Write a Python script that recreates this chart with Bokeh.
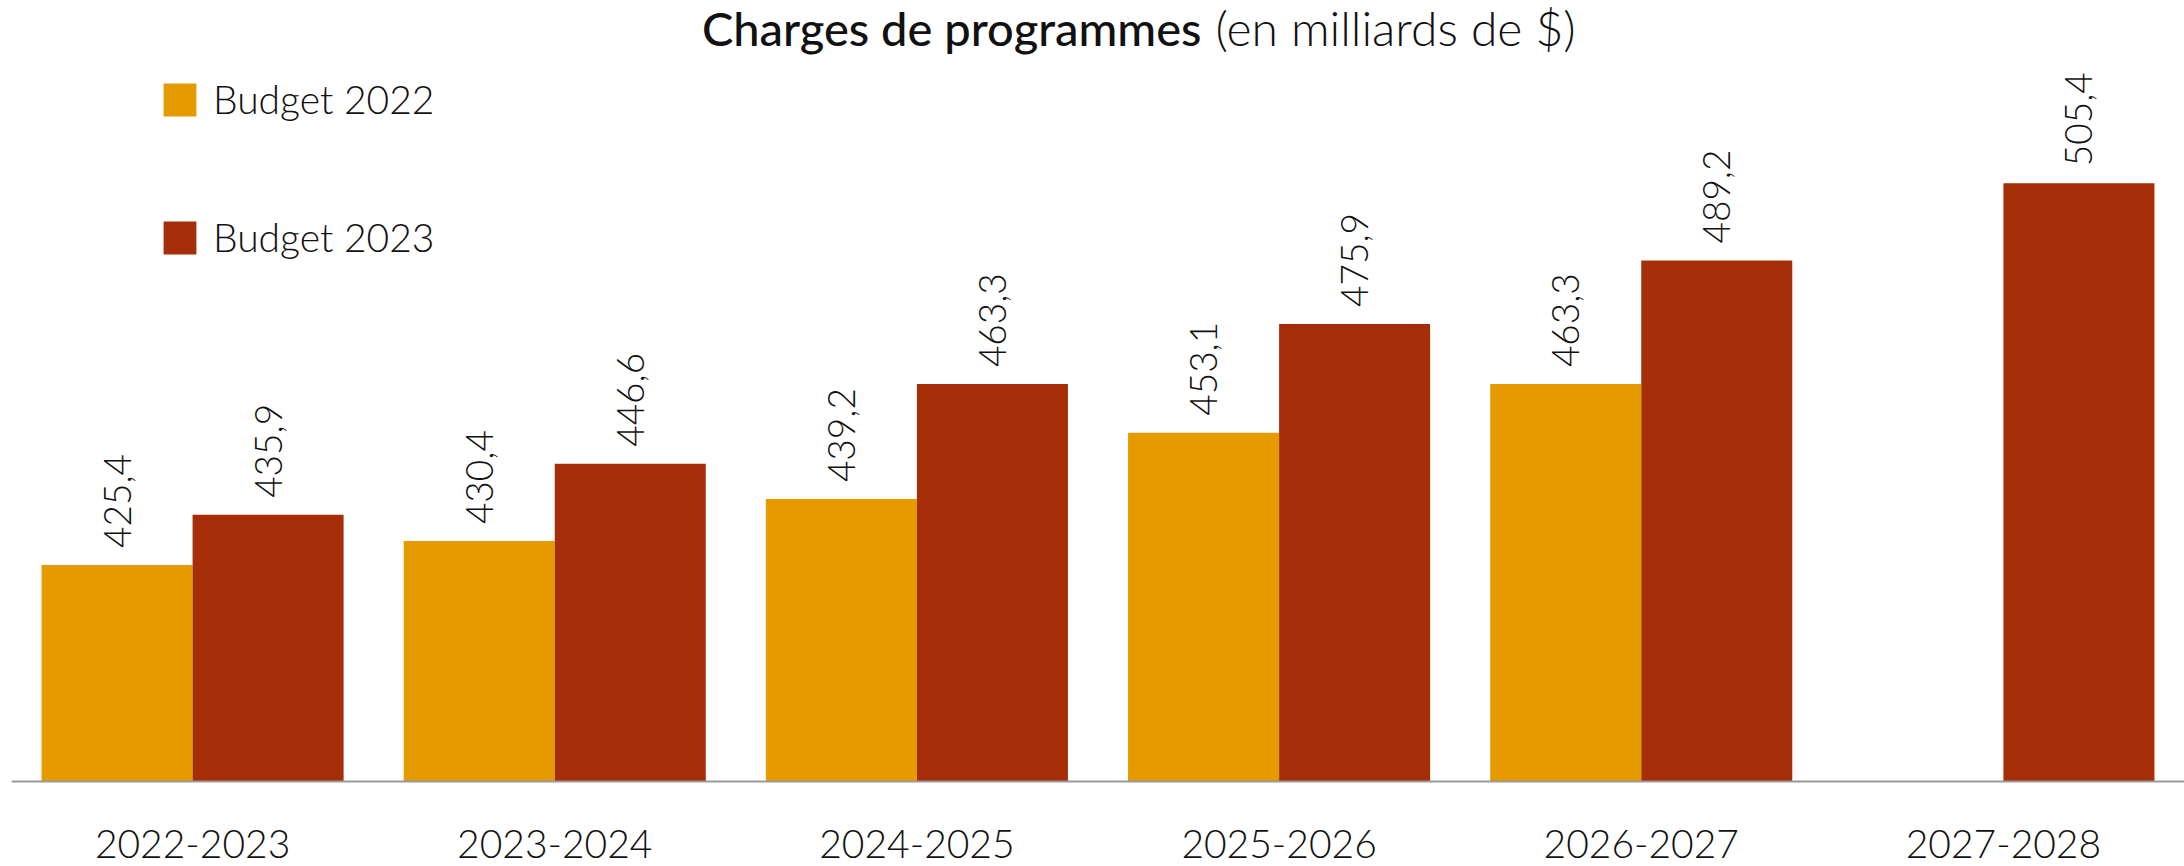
import math
from bokeh.plotting import figure
from bokeh.models import FactorRange, Range1d, Legend, LegendItem, Label, ColumnDataSource
from bokeh.transform import dodge
from bokeh.core.properties import value
from bokeh.embed import file_html
from bokeh.resources import INLINE

years = ["2022-2023", "2023-2024", "2024-2025", "2025-2026", "2026-2027", "2027-2028"]
years_2022 = ["2022-2023", "2023-2024", "2024-2025", "2025-2026", "2026-2027"]
budget_2022 = [425.4, 430.4, 439.2, 453.1, 463.3]
budget_2023 = [435.9, 446.6, 463.3, 475.9, 489.2, 505.4]
series_names = ["Budget 2022", "Budget 2023"]
title_main = "Charges de programmes"
title_unit = "(en milliards de $)"

ORANGE = "#E59B00"
RED = "#A52D08"
FONT_LIGHT = "Lato Light"
FONT_MED = "Lato Medium"
BASE = 380.0          # value at the baseline (axis)
Y_START = 362.2
Y_END = 543.7
W_PX, H_PX = 2184, 866


def fr(v):
    return f"{v:.1f}".replace(".", ",")


src22 = ColumnDataSource(dict(year=years_2022, value=budget_2022, label=[fr(v) for v in budget_2022]))
src23 = ColumnDataSource(dict(year=years, value=budget_2023, label=[fr(v) for v in budget_2023]))

p = figure(x_range=FactorRange(*years, range_padding=0), y_range=Range1d(Y_START, Y_END),
           width=W_PX, height=H_PX, output_backend="svg", toolbar_location=None,
           min_border_left=11, min_border_right=0, min_border_top=0, min_border_bottom=0)
p.yaxis.visible = False
p.xgrid.visible = False
p.ygrid.visible = False
p.outline_line_color = None
p.background_fill_color = "white"
p.border_fill_color = "white"
p.xaxis.fixed_location = BASE
p.xaxis.major_tick_line_color = None
p.xaxis.minor_tick_line_color = None
p.xaxis.axis_line_color = "#999999"
p.xaxis.axis_line_width = 2
p.xaxis.major_label_text_font = FONT_LIGHT
p.xaxis.major_label_text_font_size = "39px"
p.xaxis.major_label_text_color = "#111111"
p.xaxis.major_label_standoff = 42

W = 0.417
OFF = 0.2085
r22 = p.vbar(x=dodge("year", -OFF, range=p.x_range), top="value", bottom=BASE, width=W,
             source=src22, fill_color=ORANGE, line_color=None)
r23 = p.vbar(x=dodge("year", OFF, range=p.x_range), top="value", bottom=BASE, width=W,
             source=src23, fill_color=RED, line_color=None)

for src, off in ((src22, -OFF), (src23, OFF)):
    p.text(x=dodge("year", off, range=p.x_range), y="value", text="label", source=src,
           angle=math.pi / 2, text_align="left", text_baseline="middle", y_offset=-17,
           text_font=value(FONT_LIGHT), text_font_size="37px", text_color="#111111")

legend = Legend(items=[LegendItem(label=series_names[0], renderers=[r22]),
                       LegendItem(label=series_names[1], renderers=[r23])],
                location=(148, 606), orientation="vertical",
                glyph_width=41, glyph_height=41, label_height=41, spacing=92,
                label_standoff=13, padding=0, margin=0,
                border_line_color=None, background_fill_alpha=0,
                label_text_font=FONT_LIGHT, label_text_font_size="39px", label_text_color="#111111")
p.add_layout(legend)

p.add_layout(Label(x=1190, y=839, x_units="screen", y_units="screen", text=title_main,
                   text_align="right", text_baseline="alphabetic", text_font=FONT_MED,
                   text_font_size="47px", text_color="#111111"))
p.add_layout(Label(x=1204, y=839, x_units="screen", y_units="screen", text=title_unit,
                   text_align="left", text_baseline="alphabetic", text_font=FONT_LIGHT,
                   text_font_size="48px", text_color="#111111"))

open("out.html", "w").write(file_html(p, INLINE))
